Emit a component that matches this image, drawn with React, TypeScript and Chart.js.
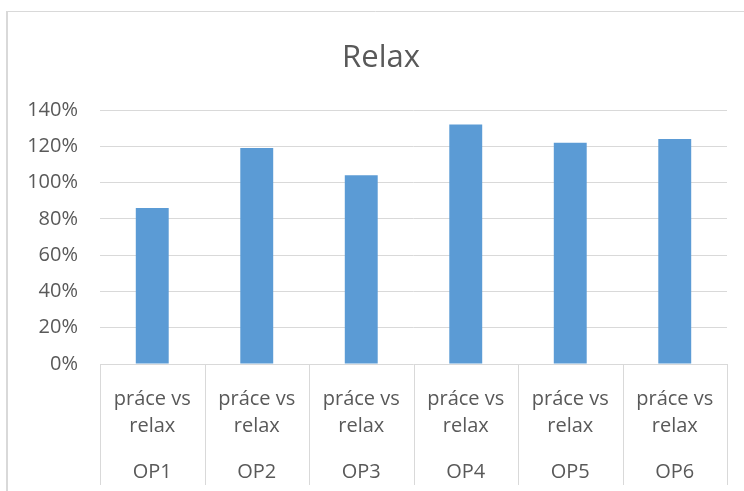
import React, { useEffect, useRef } from "react";
import { Chart, registerables } from "chart.js";

Chart.register(...registerables);

// Data
const groups = ["OP1", "OP2", "OP3", "OP4", "OP5", "OP6"];
const subLabels = ["práce vs", "relax"];
const values = [86, 119, 104, 132, 122, 124];
const yTicks = [0, 20, 40, 60, 80, 100, 120, 140];

const TEXT = "#595959";
const LINE = "#D9D9D9";
const BAR = "#5B9BD5";
const FONT = "'Open Sans', sans-serif";

// Draws the outer frame, the title and the two-level category axis
const decorations = {
  id: "decorations",
  beforeDraw(chart: any) {
    const { ctx, width, height } = chart;
    ctx.save();
    ctx.fillStyle = "#ffffff";
    ctx.fillRect(0, 0, width, height);
    ctx.strokeStyle = LINE;
    ctx.lineWidth = 2;
    ctx.beginPath();
    ctx.moveTo(7, height + 2);
    ctx.lineTo(7, 11);
    ctx.stroke();
    ctx.lineWidth = 1;
    ctx.beginPath();
    ctx.moveTo(6, 11.5);
    ctx.lineTo(width + 2, 11.5);
    ctx.stroke();
    ctx.restore();
  },
  afterDraw(chart: any) {
    const { ctx, chartArea } = chart;
    const xs = chart.scales.x;
    const n = groups.length;
    const step = (chartArea.right - chartArea.left) / n;
    ctx.save();

    // title
    ctx.fillStyle = TEXT;
    ctx.font = `31px ${FONT}`;
    ctx.textAlign = "center";
    ctx.textBaseline = "alphabetic";
    ctx.fillText("Relax", 381, 67);

    // category separators
    ctx.strokeStyle = LINE;
    ctx.lineWidth = 1;
    for (let i = 0; i <= n; i++) {
      const x = Math.round(chartArea.left + i * step) + 0.5;
      ctx.beginPath();
      ctx.moveTo(x, chartArea.bottom);
      ctx.lineTo(x, chartArea.bottom + 121);
      ctx.stroke();
    }

    // labels
    ctx.fillStyle = TEXT;
    ctx.font = `20px ${FONT}`;
    ctx.textAlign = "center";
    for (let i = 0; i < n; i++) {
      const cx = xs.getPixelForValue(i);
      ctx.fillText(subLabels[0], cx, chartArea.bottom + 41);
      ctx.fillText(subLabels[1], cx, chartArea.bottom + 68);
      ctx.fillText(groups[i], cx, chartArea.bottom + 114);
    }
    ctx.restore();
  },
};

export default function App() {
  const ref = useRef<HTMLCanvasElement>(null);

  useEffect(() => {
    if (!ref.current) return;
    const chart = new Chart(ref.current, {
      type: "bar",
      data: {
        labels: groups,
        datasets: [
          {
            data: values,
            backgroundColor: BAR,
            borderWidth: 0,
            barPercentage: 1,
            categoryPercentage: 0.315,
          },
        ],
      },
      options: {
        animation: false,
        responsive: false,
        devicePixelRatio: 1,
        layout: { padding: { left: 0, right: 17, top: 110, bottom: 127 } },
        plugins: {
          legend: { display: false },
          title: { display: false },
          tooltip: { enabled: false },
        },
        scales: {
          x: { display: false },
          y: {
            min: 0,
            max: 140,
            afterFit(scale: any) {
              scale.width = 100;
            },
            afterBuildTicks(scale: any) {
              scale.ticks = yTicks.map((v) => ({ value: v }));
            },
            grid: { color: LINE, lineWidth: 1, drawTicks: false },
            border: { display: false },
            ticks: {
              color: TEXT,
              padding: 22,
              font: { family: FONT, size: 20 },
              callback: (v: any) => `${v}%`,
            },
          },
        },
      },
      plugins: [decorations],
    });
    return () => chart.destroy();
  }, []);

  return (
    <div style={{ position: "fixed", left: 0, top: 0, width: 744, height: 491 }}>
      <canvas ref={ref} width={744} height={491} />
    </div>
  );
}
